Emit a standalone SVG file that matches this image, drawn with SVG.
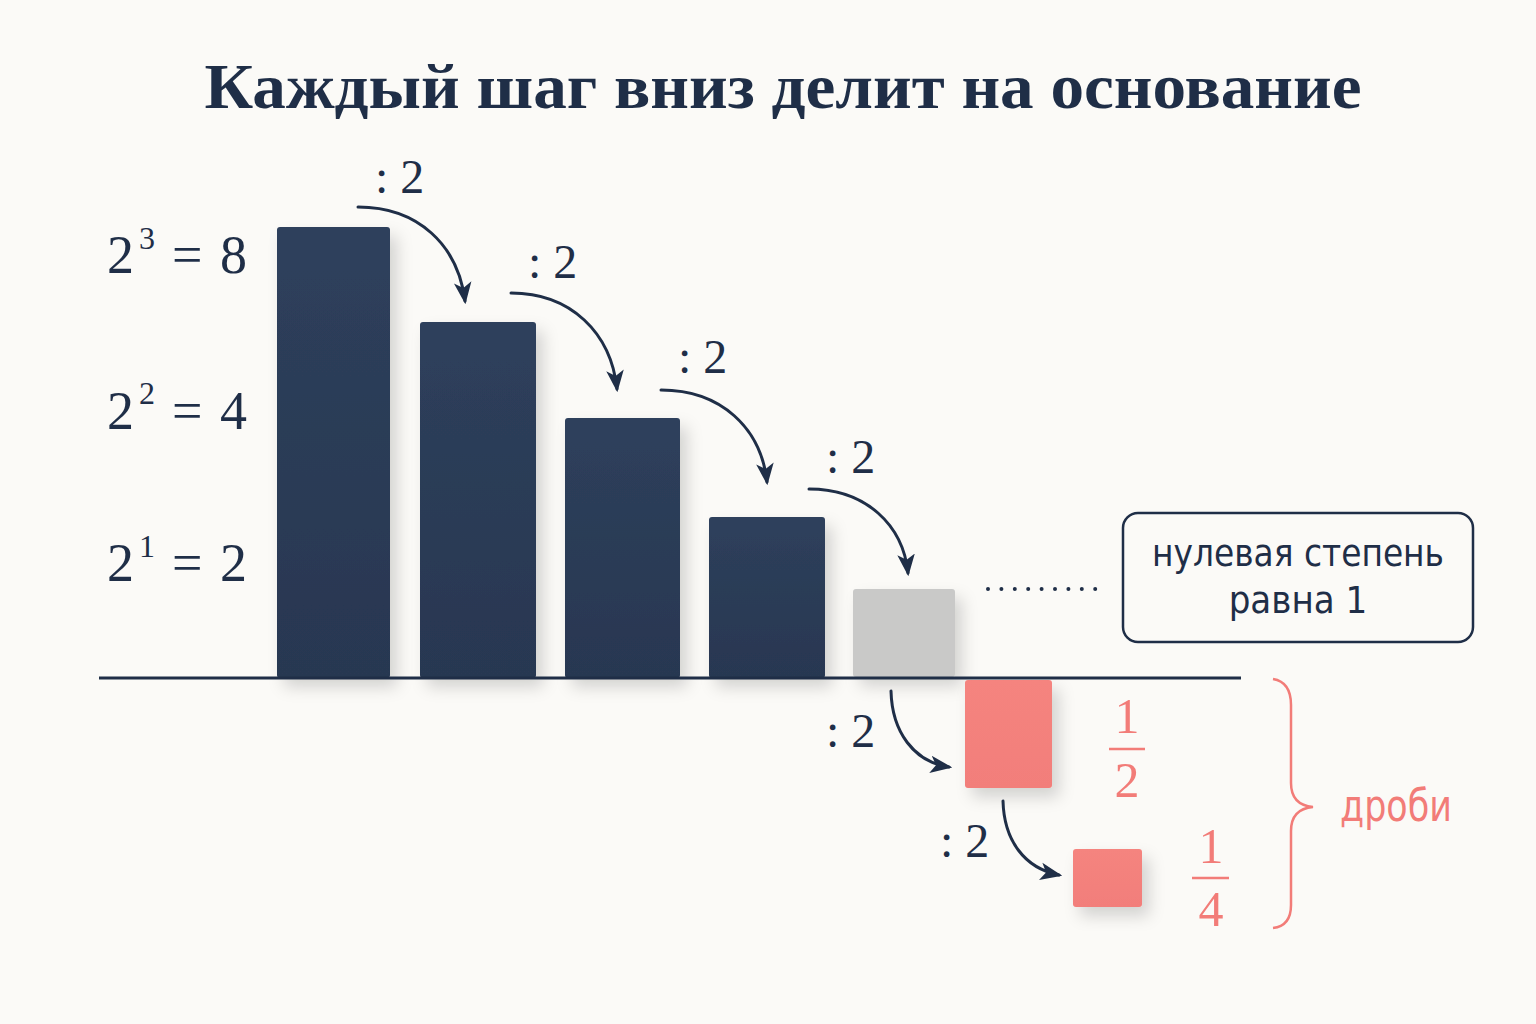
<svg xmlns="http://www.w3.org/2000/svg" width="1536" height="1024" viewBox="0 0 1536 1024">
  <defs>
    <linearGradient id="navy" x1="0" y1="0" x2="0" y2="1">
      <stop offset="0" stop-color="#2E405C"/>
      <stop offset="1" stop-color="#283751"/>
    </linearGradient>
    <linearGradient id="coral" x1="0" y1="0" x2="0" y2="1">
      <stop offset="0" stop-color="#F5847F"/>
      <stop offset="1" stop-color="#F27E7A"/>
    </linearGradient>
    <filter id="shadow" x="-30%" y="-30%" width="170%" height="170%">
      <feDropShadow dx="7" dy="9" stdDeviation="8" flood-color="#000" flood-opacity="0.16"/>
    </filter>
    <marker id="arrow" viewBox="0 0 20 20" refX="17" refY="10" markerWidth="22" markerHeight="22" markerUnits="userSpaceOnUse" orient="auto">
      <path d="M0,2 L20,10 L0,18 L5,10 Z" fill="#1F2E47"/>
    </marker>
  </defs>
  <style>
    .title { font-family: "Liberation Serif", "DejaVu Serif", serif; font-weight: bold; font-size: 64px; fill: #1F2E47; }
    .math { font-family: "Liberation Serif", "DejaVu Serif", serif; fill: #1F2E47; }
    .big { font-size: 54px; }
    .sup { font-size: 32px; }
    .step { font-size: 48px; }
    .frac { font-family: "Liberation Serif", "DejaVu Serif", serif; font-size: 50px; fill: #F27C78; text-anchor: middle; }
    .note { font-family: "DejaVu Sans Condensed", "Liberation Sans Narrow", "Noto Sans", sans-serif; font-size: 38px; fill: #1F2E47; text-anchor: middle; }
    .red { font-family: "DejaVu Sans Condensed", "Liberation Sans Narrow", "Noto Sans", sans-serif; font-size: 44px; fill: #F27C78; }
    .conn { fill: none; stroke: #1F2E47; stroke-width: 3; stroke-linecap: round; marker-end: url(#arrow); }
    .bar { fill: url(#navy); filter: url(#shadow); }
  </style>

  <rect x="0" y="0" width="1536" height="1024" fill="#FBFAF7"/>

  <text class="title" x="783" y="108" text-anchor="middle" textLength="1157" lengthAdjust="spacingAndGlyphs">Каждый шаг вниз делит на основание</text>

  <g id="label-8">
    <text class="math big" x="107" y="273">2</text>
    <text class="math sup" x="139" y="249">3</text>
    <text class="math big" x="172" y="273">=</text>
    <text class="math big" x="220" y="273">8</text>
  </g>
  <g id="label-4">
    <text class="math big" x="107" y="429">2</text>
    <text class="math sup" x="139" y="404">2</text>
    <text class="math big" x="172" y="429">=</text>
    <text class="math big" x="220" y="429">4</text>
  </g>
  <g id="label-2">
    <text class="math big" x="107" y="581">2</text>
    <text class="math sup" x="139" y="557">1</text>
    <text class="math big" x="172" y="581">=</text>
    <text class="math big" x="220" y="581">2</text>
  </g>

  <g id="bar-8"><rect class="bar" x="277" y="227" width="113" height="451" rx="3"/></g>
  <g id="bar-4"><rect class="bar" x="420" y="322" width="116" height="356" rx="3"/></g>
  <g id="bar-2"><rect class="bar" x="565" y="418" width="115" height="260" rx="3"/></g>
  <g id="bar-1"><rect class="bar" x="709" y="517" width="116" height="161" rx="3"/></g>
  <g id="bar-zero"><rect x="853" y="589" width="102" height="88" rx="3" fill="#C9C9C8" filter="url(#shadow)"/></g>

  <g id="bar-half"><rect x="965" y="680" width="87" height="108" rx="3" fill="url(#coral)" filter="url(#shadow)"/></g>
  <g id="bar-quarter"><rect x="1073" y="849" width="69" height="58" rx="3" fill="url(#coral)" filter="url(#shadow)"/></g>

  <g id="axis">
    <line x1="99" y1="678" x2="1241" y2="678" stroke="#1F2E47" stroke-width="3"/>
  </g>

  <g id="connectors">
    <path class="conn" d="M358,207 C418,207 458,245 465,301"/>
    <path class="conn" d="M511,293 C571,293 611,333 617,389"/>
    <path class="conn" d="M661,390 C721,390 761,428 767,482"/>
    <path class="conn" d="M809,489 C866,489 903,525 908,573"/>
    <path class="conn" d="M891,691 C892,732 914,762 949,767"/>
    <path class="conn" d="M1003,801 C1004,840 1024,868 1059,875"/>
    <line x1="988" y1="589" x2="1096" y2="589" stroke="#1F2E47" stroke-width="4" stroke-linecap="round" stroke-dasharray="0 13.4"/>
  </g>

  <g id="step-labels">
    <text class="math step" x="375" y="193">: 2</text>
    <text class="math step" x="528" y="278">: 2</text>
    <text class="math step" x="678" y="373">: 2</text>
    <text class="math step" x="826" y="473">: 2</text>
    <text class="math step" x="826" y="747">: 2</text>
    <text class="math step" x="940" y="857">: 2</text>
  </g>

  <g id="note-box">
    <rect x="1123" y="513" width="350" height="129" rx="15" fill="#FBFAF7" stroke="#1F2E47" stroke-width="2.5"/>
    <text class="note" x="1298" y="566" textLength="292" lengthAdjust="spacingAndGlyphs">нулевая степень</text>
    <text class="note" x="1298" y="613">равна 1</text>
  </g>

  <g id="frac-half">
    <text class="frac" x="1127" y="733">1</text>
    <line x1="1109" y1="749" x2="1145" y2="749" stroke="#F27C78" stroke-width="2.5"/>
    <text class="frac" x="1127" y="797">2</text>
  </g>
  <g id="frac-quarter">
    <text class="frac" x="1211" y="863">1</text>
    <line x1="1192" y1="878" x2="1229" y2="878" stroke="#F27C78" stroke-width="2.5"/>
    <text class="frac" x="1211" y="926">4</text>
  </g>

  <g id="fractions-brace">
    <path d="M1273,679 Q1291,682 1291,705 L1291,783 Q1291,805 1313,807 Q1291,809 1291,831 L1291,905 Q1291,926 1273,928" fill="none" stroke="#F27C78" stroke-width="2.5"/>
    <text class="red" x="1340" y="821" textLength="112" lengthAdjust="spacingAndGlyphs">дроби</text>
  </g>
</svg>
